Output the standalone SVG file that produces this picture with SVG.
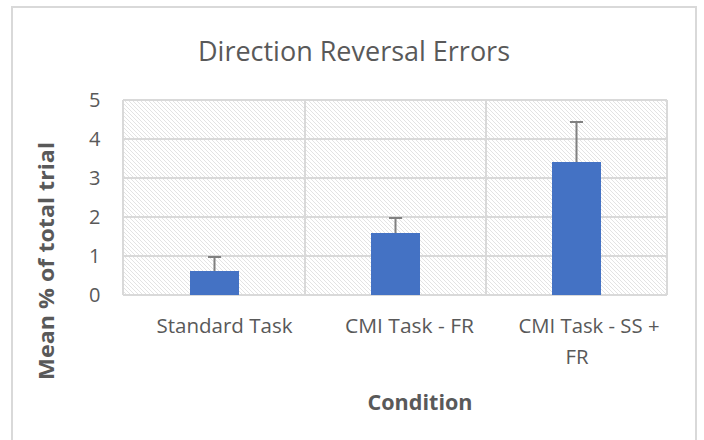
<svg xmlns="http://www.w3.org/2000/svg" width="704" height="440" viewBox="0 0 704 440">
<defs>
<pattern id="hatch" width="4" height="4" patternUnits="userSpaceOnUse">
<rect width="4" height="4" fill="#ffffff"/>
<path d="M0,0 L4,4 M-1,3 L1,5 M3,-1 L5,1" stroke="#e0e0e0" stroke-width="0.9"/>
</pattern>
<style>
.grid{stroke:#d9d9d9;stroke-width:2;fill:none}
.bar{fill:#4472c4}
.err{stroke:#808080;stroke-width:2;fill:none}
.tick{font-family:"Open Sans","Liberation Sans",sans-serif;font-size:20px;fill:#595959}
.cat{font-family:"Open Sans","Liberation Sans",sans-serif;font-size:20px;fill:#595959;text-anchor:middle}
.axt{font-family:"Open Sans","Liberation Sans",sans-serif;font-size:22px;font-weight:bold;fill:#595959;text-anchor:middle}
</style>
</defs>
<rect x="0" y="0" width="704" height="440" fill="#ffffff"/>
<rect x="12" y="7" width="684" height="445" fill="#ffffff" stroke="#d9d9d9" stroke-width="2"/>
<text x="354" y="61" font-family="Open Sans, Liberation Sans, sans-serif" font-size="27" fill="#595959" text-anchor="middle" textLength="312" lengthAdjust="spacingAndGlyphs">Direction Reversal Errors</text>
<g id="plot">
<rect x="123" y="100" width="544" height="195" fill="url(#hatch)"/>
<path class="grid" d="M123,100 H667 M123,139 H667 M123,178 H667 M123,217 H667 M123,256 H667 M123,295 H667 M123,100 V295 M305,100 V295 M486,100 V295 M667,100 V295"/>
</g>
<g id="yticks">
<text class="tick" x="89" y="107">5</text>
<text class="tick" x="89" y="146">4</text>
<text class="tick" x="89" y="185">3</text>
<text class="tick" x="89" y="224">2</text>
<text class="tick" x="89" y="263">1</text>
<text class="tick" x="89" y="302">0</text>
</g>
<g id="bar1">
<rect class="bar" x="190" y="271" width="49" height="24"/>
<path class="err" d="M214.5,271 V257 M208,257 H221"/>
</g>
<g id="bar2">
<rect class="bar" x="371" y="233" width="49" height="62"/>
<path class="err" d="M395.5,233 V218 M389,218 H402"/>
</g>
<g id="bar3">
<rect class="bar" x="552" y="162" width="49" height="133"/>
<path class="err" d="M576.5,162 V122 M570,122 H583"/>
</g>
<g id="xlabels">
<text class="cat" x="224.5" y="333" textLength="136" lengthAdjust="spacingAndGlyphs">Standard Task</text>
<text class="cat" x="409.5" y="333" textLength="129" lengthAdjust="spacingAndGlyphs">CMI Task - FR</text>
<text class="cat" x="589" y="333" textLength="141" lengthAdjust="spacingAndGlyphs">CMI Task - SS +</text>
<text class="cat" x="577" y="364" textLength="23" lengthAdjust="spacingAndGlyphs">FR</text>
</g>
<text class="axt" x="420" y="410" textLength="105" lengthAdjust="spacingAndGlyphs">Condition</text>
<text class="axt" transform="translate(54,261) rotate(-90)" textLength="238" lengthAdjust="spacingAndGlyphs">Mean % of total trial</text>
</svg>
